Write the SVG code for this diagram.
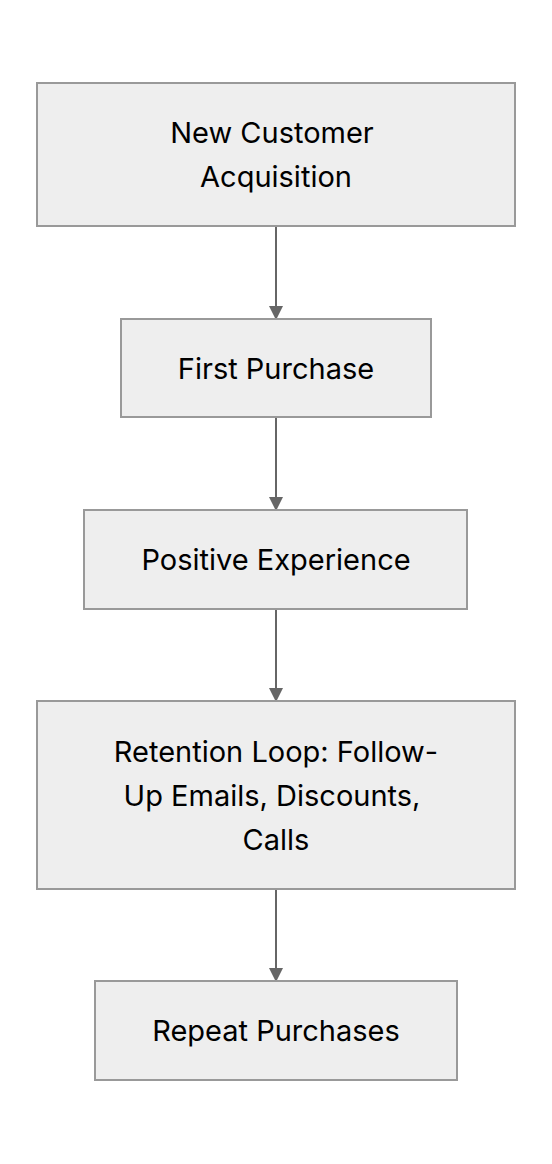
<svg xmlns="http://www.w3.org/2000/svg" width="552" height="1164" viewBox="0 0 552 1164">
<style>
.node rect{fill:#eeeeee;stroke:#999999;stroke-width:2}
.node text{font-family:Inter,"Noto Sans",sans-serif;font-size:29px;fill:#000000;text-anchor:middle}
.edge{stroke:#666666;stroke-width:2;fill:none;marker-end:url(#arrow)}
</style>
<defs>
<marker id="arrow" markerUnits="userSpaceOnUse" markerWidth="14" markerHeight="14" refX="13" refY="7" orient="auto" viewBox="0 0 14 14">
<path d="M0,0 L14,7 L0,14 z" fill="#666666"/>
</marker>
</defs>
<rect width="552" height="1164" fill="#ffffff"/>
<g id="connectors">
<line class="edge" x1="276" y1="227" x2="276" y2="319"/>
<line class="edge" x1="276" y1="418" x2="276" y2="510"/>
<line class="edge" x1="276" y1="610" x2="276" y2="701"/>
<line class="edge" x1="276" y1="890" x2="276" y2="981"/>
</g>
<g id="node1" class="node">
<rect x="37" y="83" width="478" height="143"/>
<text x="272" y="143">New Customer</text>
<text x="276" y="187">Acquisition</text>
</g>
<g id="node2" class="node">
<rect x="121" y="319" width="310" height="98"/>
<text x="276" y="379">First Purchase</text>
</g>
<g id="node3" class="node">
<rect x="84" y="510" width="383" height="99"/>
<text x="276" y="570">Positive Experience</text>
</g>
<g id="node4" class="node">
<rect x="37" y="701" width="478" height="188"/>
<text x="276" y="762">Retention Loop: Follow-</text>
<text x="272" y="806">Up Emails, Discounts,</text>
<text x="276" y="850">Calls</text>
</g>
<g id="node5" class="node">
<rect x="95" y="981" width="362" height="99"/>
<text x="276" y="1041">Repeat Purchases</text>
</g>
</svg>
